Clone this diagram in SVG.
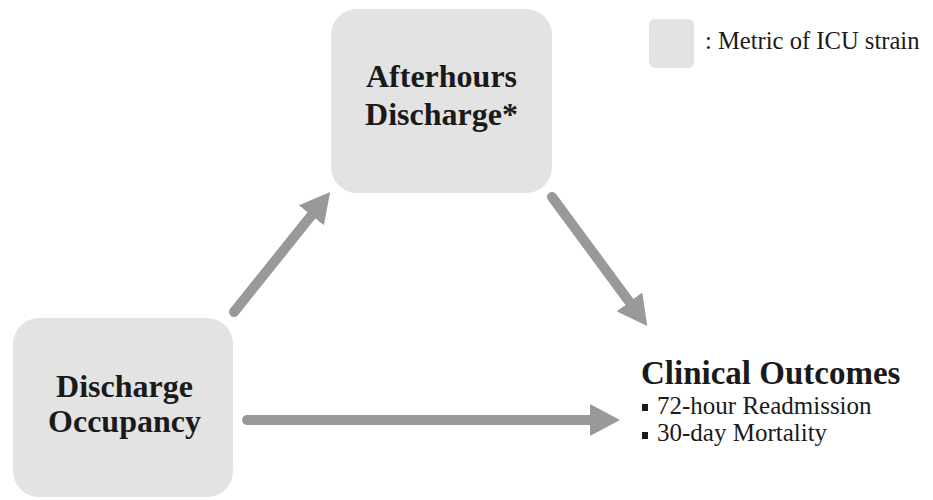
<svg xmlns="http://www.w3.org/2000/svg" width="933" height="500" viewBox="0 0 933 500">
<defs>
<style>
.box{fill:#e3e3e3;}
.title{font-family:"Liberation Serif","Times New Roman",serif;font-weight:bold;font-size:32px;fill:#1a1a1a;}
.reg{font-family:"Liberation Serif","Times New Roman",serif;font-size:25px;fill:#1a1a1a;}
.arrow{stroke:#999999;stroke-width:10;stroke-linecap:round;fill:none;}
</style>
<marker id="head" markerUnits="userSpaceOnUse" viewBox="0 0 30 32" markerWidth="30" markerHeight="32" refX="1" refY="16" orient="auto">
<path d="M0,0 L30,16 L0,32 z" fill="#999999"/>
</marker>
</defs>
<rect width="933" height="500" fill="#ffffff"/>
<g id="connectors">
<line class="arrow" x1="234" y1="312" x2="312" y2="214.6" marker-end="url(#head)"/>
<line class="arrow" x1="552" y1="197" x2="630" y2="302.7" marker-end="url(#head)"/>
<line class="arrow" x1="247" y1="420" x2="591" y2="420" marker-end="url(#head)"/>
</g>
<g id="afterhours">
<rect class="box" x="331" y="9" width="221" height="184" rx="26" ry="26"/>
<text class="title" x="441.5" y="87" text-anchor="middle">Afterhours</text>
<text class="title" x="441.5" y="125" text-anchor="middle">Discharge*</text>
</g>
<g id="occupancy">
<rect class="box" x="13" y="318" width="220" height="179" rx="26" ry="26"/>
<text class="title" x="124.5" y="397" text-anchor="middle">Discharge</text>
<text class="title" x="124.5" y="432" text-anchor="middle">Occupancy</text>
</g>
<g id="outcomes">
<text class="title" x="641" y="384" style="font-size:33px">Clinical Outcomes</text>
<rect x="642" y="404" width="6" height="7" fill="#1a1a1a"/>
<text class="reg" x="657" y="414">72-hour Readmission</text>
<rect x="642" y="432" width="6" height="7" fill="#1a1a1a"/>
<text class="reg" x="657" y="441">30-day Mortality</text>
</g>
<g id="legend">
<rect class="box" x="649" y="19" width="45" height="49" rx="6" ry="6"/>
<text class="reg" x="705" y="49" style="font-size:24.6px">: Metric of ICU strain</text>
</g>
</svg>
